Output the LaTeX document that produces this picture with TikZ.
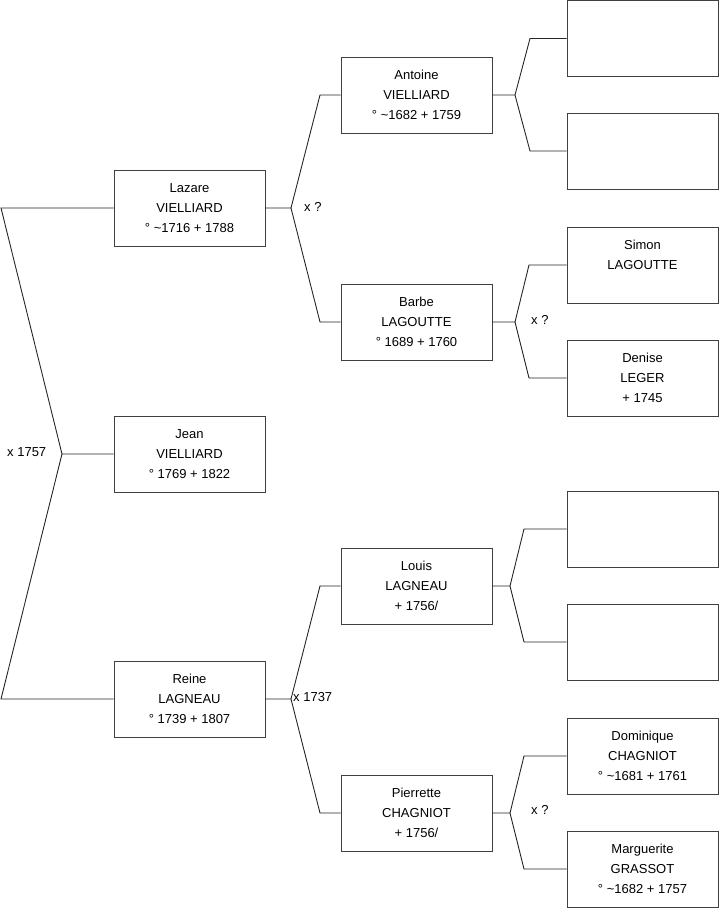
\documentclass[tikz,border=0pt]{standalone}
\usepackage{fontspec}
\setmainfont{Liberation Sans}
\usepackage{tikz}

\tikzset{
  person/.style={draw=black!75, line width=0.9pt, minimum width=151pt, minimum height=76pt,
    inner sep=0pt, align=center, font=\fontsize{13}{20}\selectfont},
  link/.style={draw=black!85, line width=0.9pt},
  union/.style={inner sep=0pt, anchor=west, font=\fontsize{13}{14}\selectfont}
}

\begin{document}
\begin{tikzpicture}[x=1pt, y=-1pt]
    \useasboundingbox (0,0) rectangle (719,908);

    % Child
    \node[person] (jean) at (189.5,454) {Jean\\VIELLIARD\\° 1769 + 1822};

    % Parents
    \node[person] (lazare) at (189.5,208) {Lazare\\VIELLIARD\\° \textasciitilde1716 + 1788};
    \node[person] (reine) at (189.5,699) {Reine\\LAGNEAU\\° 1739 + 1807};

    % Grandparents
    \node[person] (antoine) at (416.5,95) {Antoine\\VIELLIARD\\° \textasciitilde1682 + 1759};
    \node[person] (barbe) at (416.5,322) {Barbe\\LAGOUTTE\\° 1689 + 1760};
    \node[person] (louis) at (416.5,586) {Louis\\LAGNEAU\\+ 1756/};
    \node[person] (pierrette) at (416.5,813) {Pierrette\\CHAGNIOT\\+ 1756/};

    % Great-grandparents
    \node[person] (antoinefa) at (642.5,38.5) {};
    \node[person] (antoinemo) at (642.5,151) {};
    \node[person] (simon) at (642.5,265) {Simon\\LAGOUTTE\\\mbox{}};
    \node[person] (denise) at (642.5,378) {Denise\\LEGER\\+ 1745};
    \node[person] (louisfa) at (642.5,529) {};
    \node[person] (louismo) at (642.5,642) {};
    \node[person] (dominique) at (642.5,756) {Dominique\\CHAGNIOT\\° \textasciitilde1681 + 1761};
    \node[person] (marguerite) at (642.5,869) {Marguerite\\GRASSOT\\° \textasciitilde1682 + 1757};

    % Fork points
    \coordinate (fj) at (62,454);
    \coordinate (fj1) at (1,208);
    \coordinate (fj2) at (1,699);
    \coordinate (fl) at (291,208);
    \coordinate (fl1) at (320,95);
    \coordinate (fl2) at (320,322);
    \coordinate (fr) at (291,699);
    \coordinate (fr1) at (320,586);
    \coordinate (fr2) at (320,813);
    \coordinate (fa) at (515,95);
    \coordinate (fa1) at (530,38.5);
    \coordinate (fa2) at (530,151);
    \coordinate (fb) at (515,322);
    \coordinate (fb1) at (529,265);
    \coordinate (fb2) at (529,378);
    \coordinate (fo) at (510,586);
    \coordinate (fo1) at (524,529);
    \coordinate (fo2) at (524,642);
    \coordinate (fp) at (510,813);
    \coordinate (fp1) at (524,756);
    \coordinate (fp2) at (524,869);

    % Connectors
    \draw[link] (jean.west) -- (fj) -- (fj1) -- (lazare.west);
    \draw[link] (fj) -- (fj2) -- (reine.west);
    \draw[link] (lazare.east) -- (fl) -- (fl1) -- (antoine.west);
    \draw[link] (fl) -- (fl2) -- (barbe.west);
    \draw[link] (reine.east) -- (fr) -- (fr1) -- (louis.west);
    \draw[link] (fr) -- (fr2) -- (pierrette.west);
    \draw[link] (antoine.east) -- (fa) -- (fa1) -- (antoinefa.west);
    \draw[link] (fa) -- (fa2) -- (antoinemo.west);
    \draw[link] (barbe.east) -- (fb) -- (fb1) -- (simon.west);
    \draw[link] (fb) -- (fb2) -- (denise.west);
    \draw[link] (louis.east) -- (fo) -- (fo1) -- (louisfa.west);
    \draw[link] (fo) -- (fo2) -- (louismo.west);
    \draw[link] (pierrette.east) -- (fp) -- (fp1) -- (dominique.west);
    \draw[link] (fp) -- (fp2) -- (marguerite.west);

    % Marriages
    \node[union] (mj) at (7,452) {x 1757};
    \node[union] (ml) at (304,207) {x ?};
    \node[union] (mr) at (293,697) {x 1737};
    \node[union] (mb) at (531,320) {x ?};
    \node[union] (mp) at (531,810) {x ?};
\end{tikzpicture}
\end{document}
